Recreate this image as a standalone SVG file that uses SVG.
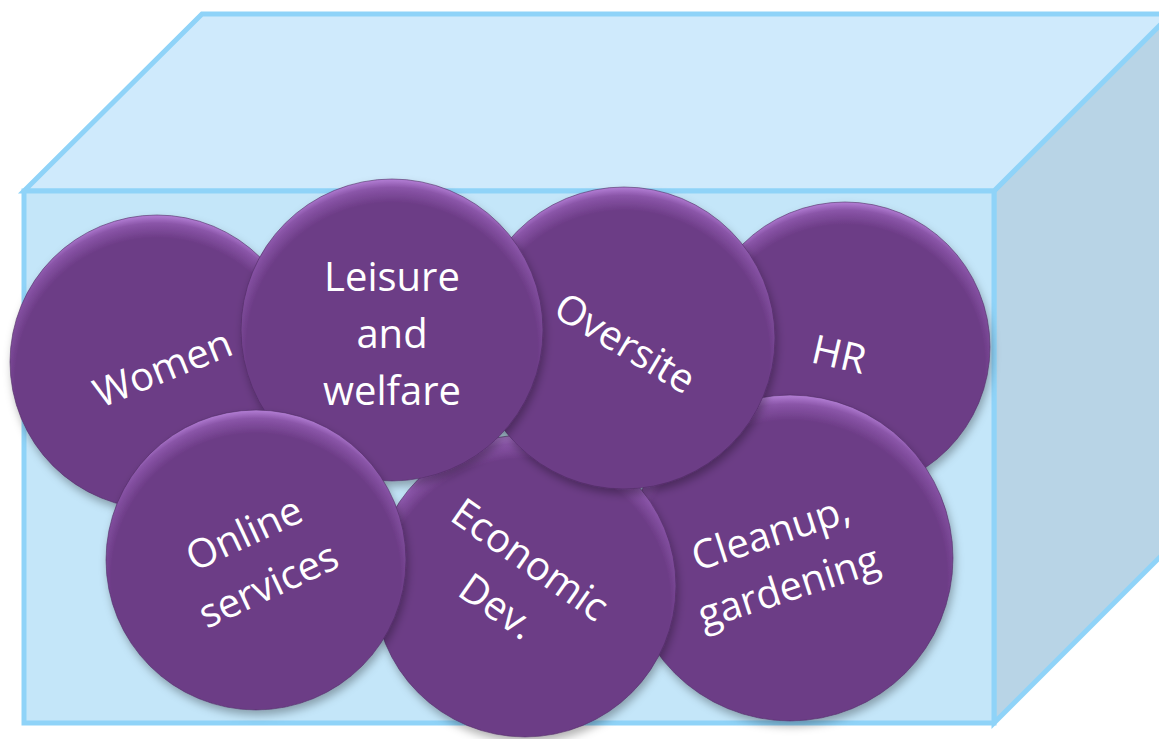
<svg xmlns="http://www.w3.org/2000/svg" width="1159" height="739" viewBox="0 0 1159 739">
<style>
.edge{stroke:#8fd3f8;stroke-width:5;stroke-linejoin:miter}
.disc{fill:url(#discFill);stroke:#4f2b63;stroke-width:1;stroke-opacity:0.6;filter:url(#shadow)}
.lbl{font-family:"Open Sans","Noto Sans",sans-serif;font-size:40px;fill:#ffffff;text-anchor:middle}
</style>
<defs>
<radialGradient id="discFill" cx="0.5" cy="0.56" r="0.56">
<stop offset="0" stop-color="#6c3c86"/>
<stop offset="0.86" stop-color="#6c3c86"/>
<stop offset="0.95" stop-color="#8a55a8"/>
<stop offset="1" stop-color="#b47fd6"/>
</radialGradient>
<filter id="shadow" x="-20%" y="-20%" width="140%" height="140%">
<feDropShadow dx="2" dy="5" stdDeviation="4" flood-color="#000" flood-opacity="0.3"/>
</filter>
</defs>
<g id="box">
<polygon class="edge" points="994,191 1171,14 1171,546 994,723" fill="#b8d4e6"/>
<polygon class="edge" points="24,191 202,14 1171,14 994,191" fill="#cfeafc"/>
<rect class="edge" x="24" y="191" width="970" height="532" fill="#c4e6f9"/>
</g>
<g id="connectors"></g>
<g id="node-hr">
<circle class="disc" cx="845" cy="347" r="145"/>
<text class="lbl" transform="translate(836,368) rotate(13)">HR</text>
</g>
<g id="node-cleanup">
<circle class="disc" cx="790" cy="558" r="163"/>
<text class="lbl" transform="translate(775,546) rotate(-18)"><tspan x="0" y="0">Cleanup,</tspan><tspan x="0" y="57">gardening</tspan></text>
</g>
<g id="node-economic">
<circle class="disc" cx="525" cy="586" r="151"/>
<text class="lbl" transform="translate(522,571) rotate(35)"><tspan x="0" y="0">Economic</tspan><tspan x="0" y="57">Dev.</tspan></text>
</g>
<g id="node-oversite">
<circle class="disc" cx="624" cy="338" r="151"/>
<text class="lbl" transform="translate(618,355) rotate(31)">Oversite</text>
</g>
<g id="node-women">
<circle class="disc" cx="157" cy="362" r="147"/>
<text class="lbl" transform="translate(168,381) rotate(-22)">Women</text>
</g>
<g id="node-leisure">
<circle class="disc" cx="392" cy="330" r="151"/>
<text class="lbl"><tspan x="392" y="291">Leisure</tspan><tspan x="392" y="348">and</tspan><tspan x="392" y="405">welfare</tspan></text>
</g>
<g id="node-online">
<circle class="disc" cx="256" cy="560" r="150"/>
<text class="lbl" transform="translate(250,546) rotate(-25)"><tspan x="0" y="0">Online</tspan><tspan x="0" y="57">services</tspan></text>
</g>
</svg>
